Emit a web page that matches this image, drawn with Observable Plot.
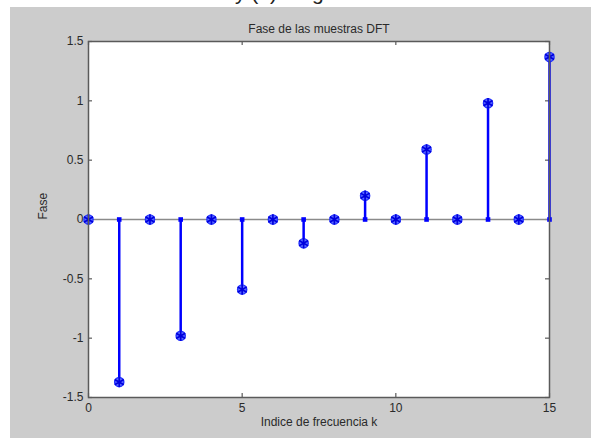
<!DOCTYPE html>
<html>
<head>
<meta charset="utf-8">
<script src="https://cdn.jsdelivr.net/npm/d3@7"></script>
<script src="https://cdn.jsdelivr.net/npm/@observablehq/plot@0.6"></script>
<style>
  html, body { margin: 0; padding: 0; background: #ffffff; }
  #page { position: relative; width: 591px; height: 438px; overflow: hidden; background: #ffffff; }
  #caption { position: absolute; top: -19px; left: 0; width: 591px; height: 26px; font: 21px "Liberation Sans", Arial, sans-serif; color: #222; white-space: nowrap; }
  #caption .a { position: absolute; right: 360px; }
  #caption .b { position: absolute; left: 235px; }
  #chart { position: absolute; left: 10px; top: 7px; }
</style>
</head>
<body>
<div id="page">
  <div id="caption"><span class="a">(a) Fase de las muestras DFT</span><span class="b">y (b) Magnitud de las muestras DFT</span></div>
  <div id="chart"></div>
</div>
<script>
// Frequency index k and phase of the DFT samples
const k = [0, 1, 2, 3, 4, 5, 6, 7, 8, 9, 10, 11, 12, 13, 14, 15];
const phase = [0, -1.37, 0, -0.98, 0, -0.59, 0, -0.2, 0, 0.2, 0, 0.59, 0, 0.98, 0, 1.37];
const xTicks = [0, 5, 10, 15];
const yTicks = [-1.5, -1, -0.5, 0, 0.5, 1, 1.5];
const yTickLabels = ["-1.5", "-1", "-0.5", "0", "0.5", "1", "1.5"];
const title = "Fase de las muestras DFT";
const xLabel = "Indice de frecuencia k";
const yLabel = "Fase";

const samples = k.map((kk, i) => ({k: kk, v: phase[i]}));
const nonzero = samples.filter(d => d.v !== 0);
const stemColor = "#0000ff";
const axisColor = "#5a5a5a";
const textColor = "#2a2a2a";

const chart = Plot.plot({
  width: 581,
  height: 431,
  marginLeft: 78,
  marginRight: 42,
  marginTop: 34,
  marginBottom: 41,
  style: {background: "#cccccc", fontFamily: "'Liberation Sans', Arial, sans-serif", fontSize: "12px", color: textColor},
  x: {domain: [0, 15]},
  y: {domain: [-1.5, 1.5]},
  marks: [
    Plot.frame({fill: "white", stroke: "none"}),
    // inward tick marks on all four sides
    Plot.tickX(xTicks, {x: d => d, stroke: axisColor, strokeWidth: 1.2, insetTop: 352}),
    Plot.tickX(xTicks, {x: d => d, stroke: axisColor, strokeWidth: 1.2, insetBottom: 352}),
    Plot.tickY(yTicks, {y: d => d, stroke: axisColor, strokeWidth: 1.2, insetRight: 457}),
    Plot.tickY(yTicks, {y: d => d, stroke: axisColor, strokeWidth: 1.2, insetLeft: 457}),
    // stem baseline
    Plot.ruleY([0], {stroke: "#8a8a8a", strokeWidth: 1.5}),
    // stems
    Plot.ruleX(samples, {x: "k", y1: 0, y2: "v", stroke: stemColor, strokeWidth: 2.5}),
    Plot.dot(nonzero, {x: "k", y: 0, r: 2.6, fill: stemColor, symbol: "square"}),
    // stem heads: circled asterisks
    Plot.dot(samples, {x: "k", y: "v", r: 4.6, fill: "#5d6cff", stroke: "#2030ff", strokeWidth: 1.4}),
    Plot.dot(samples, {x: "k", y: "v", r: 5.0, symbol: "asterisk", stroke: "#0000dd", strokeWidth: 1.7}),
    Plot.frame({stroke: axisColor, strokeWidth: 1.5}),
    Plot.axisX(xTicks, {anchor: "bottom", tickSize: 0, tickPadding: 6, label: null, tickFormat: d => String(d), fontSize: 12, fill: textColor}),
    Plot.axisY(yTicks, {anchor: "left", tickSize: 0, tickPadding: 5, label: null, tickFormat: d => yTickLabels[yTicks.indexOf(d)], fontSize: 12, fill: textColor}),
    Plot.text([title], {frameAnchor: "top", dy: -17, fontSize: 12, fill: textColor}),
    Plot.text([xLabel], {frameAnchor: "bottom", dy: 28, fontSize: 12, fill: textColor}),
    Plot.text([yLabel], {frameAnchor: "left", dx: -45, rotate: -90, fontSize: 12, fill: textColor})
  ]
});
document.getElementById("chart").append(chart);
</script>
</body>
</html>
